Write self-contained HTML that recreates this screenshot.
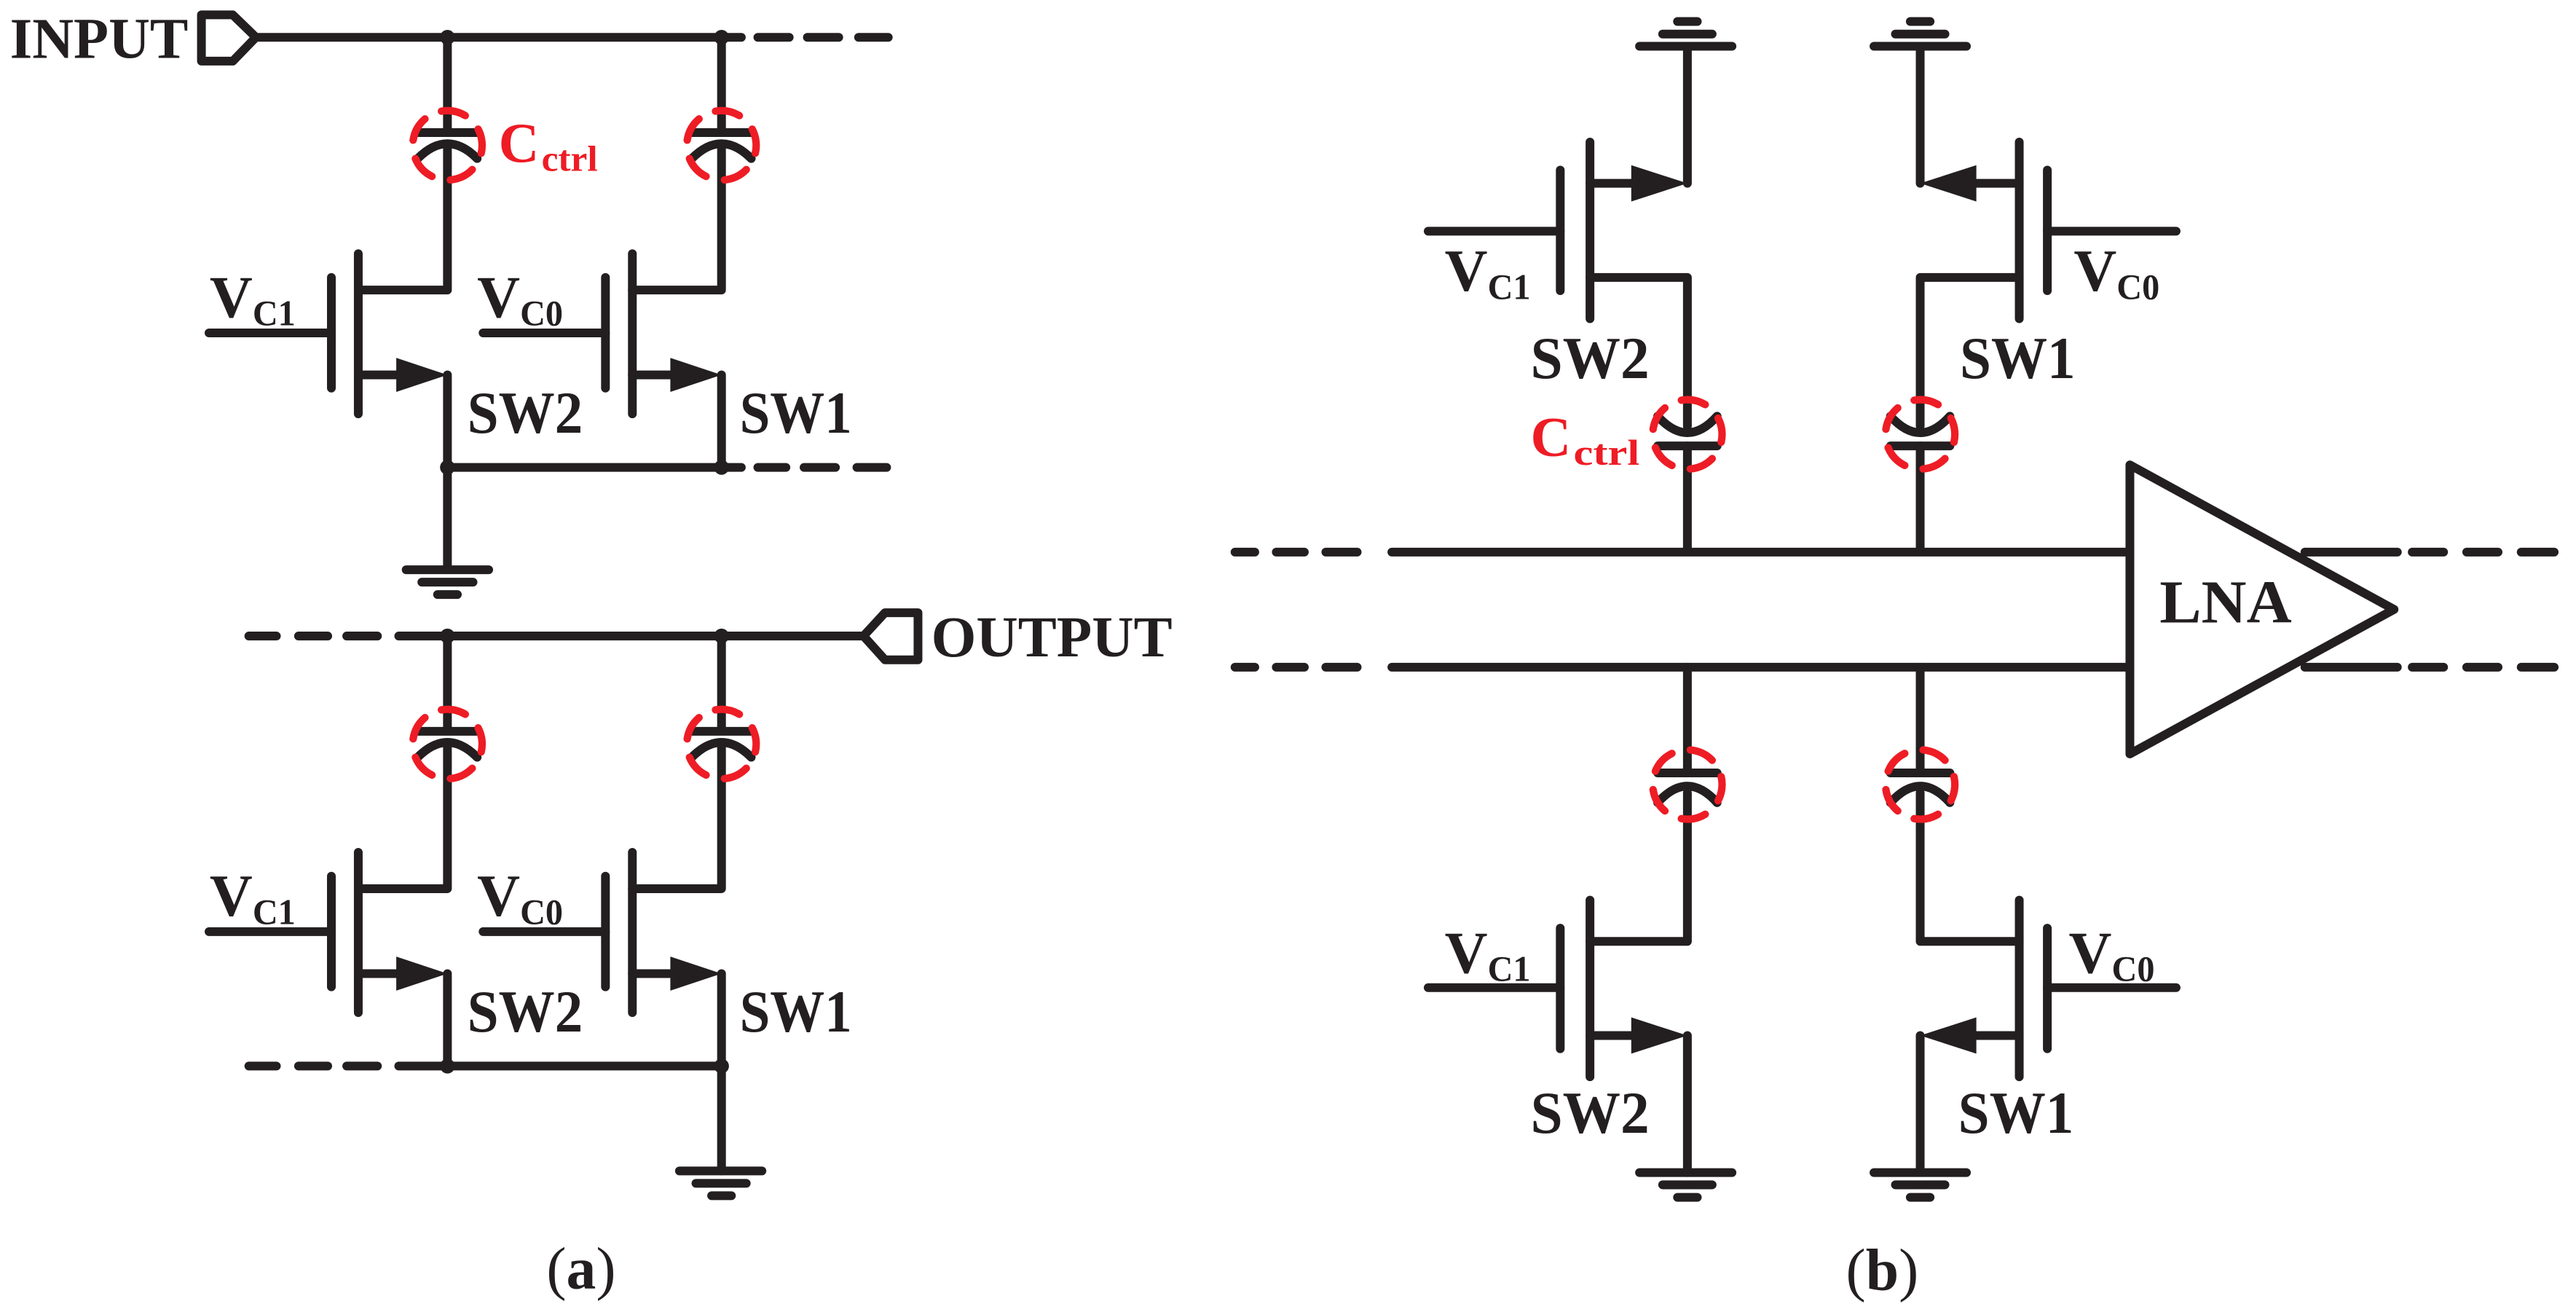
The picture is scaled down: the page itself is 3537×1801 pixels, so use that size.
<!DOCTYPE html>
<html><head><meta charset="utf-8"><style>
html,body{margin:0;padding:0;background:#fff;}
svg{display:block;}
text{font-family:"Liberation Serif",serif;font-weight:bold;fill:#231f20;}
</style></head><body>
<svg width="3537" height="1801" viewBox="0 0 1560.2 794.4" preserveAspectRatio="none" xmlns="http://www.w3.org/2000/svg">
<defs>
<g id="circ"><circle cx="0" cy="0" r="21" fill="none" stroke="#ee1c25" stroke-width="4.5" stroke-linecap="round" stroke-dasharray="15 11.4" transform="rotate(-100)"/></g>
<g id="aunit" stroke="#231f20" stroke-width="5.3" fill="none" stroke-linecap="round" stroke-linejoin="round">
  <path d="M271 22.6 V80"/>
  <path d="M253 80.3 H289"/>
  <path d="M253 96 Q271 78 289 96"/>
  <path d="M271 88 V175.6 H217"/>
  <path d="M217 153.6 V250.6"/>
  <path d="M200.7 168 V235"/>
  <path d="M126.6 201.6 H200.7"/>
  <path d="M217 227 H242"/>
  <path d="M271 227 V283"/>
  <polygon points="240,216.7 271,227 240,237.3" fill="#231f20" stroke="none"/>
  <use href="#circ" transform="translate(271,88)"/>
</g>
<g id="bunit" stroke="#231f20" stroke-width="5.3" fill="none" stroke-linecap="round" stroke-linejoin="round">
  <path d="M993 28 H1049"/>
  <path d="M1007 20.6 H1037"/>
  <path d="M1016 13 H1028"/>
  <path d="M1022 28 V111"/>
  <path d="M963 111 H990"/>
  <polygon points="988,100 1022,111 988,122" fill="#231f20" stroke="none"/>
  <path d="M963 86 V193"/>
  <path d="M945 103 V176"/>
  <path d="M865 140 H945"/>
  <path d="M963 168 H1022 V258"/>
  <path d="M1004 252 Q1022 272 1040 252"/>
  <path d="M1004 270 H1040"/>
  <path d="M1022 270 V334"/>
  <use href="#circ" transform="translate(1022,263)"/>
</g>
<g id="bunit2" stroke="#231f20" stroke-width="5.3" fill="none" stroke-linecap="round" stroke-linejoin="round">
  <path d="M1135 28 H1191"/>
  <path d="M1148 20.6 H1178"/>
  <path d="M1157 13 H1169"/>
  <path d="M1163 28 V111"/>
  <path d="M1223 111 H1195"/>
  <polygon points="1197,100 1163,111 1197,122" fill="#231f20" stroke="none"/>
  <path d="M1223 86 V193"/>
  <path d="M1240 103 V176"/>
  <path d="M1318 140 H1240"/>
  <path d="M1223 168 H1163 V258"/>
  <path d="M1145 252 Q1163 272 1181 252"/>
  <path d="M1145 270 H1181"/>
  <path d="M1163 270 V334"/>
  <use href="#circ" transform="translate(1163,263)"/>
</g>
</defs>

<g stroke="#231f20" stroke-width="5.3" fill="none" stroke-linecap="round" stroke-linejoin="round">
  <path d="M122 9 H141 L155 22.6 L141 37 H122 Z"/>
  <path d="M155 22.6 H449"/>
  <path d="M459 22.6 H478 M489 22.6 H508 M520 22.6 H538"/>
  <path d="M271 283 H449"/>
  <path d="M459 283 H476 M487 283 H506 M519 283 H537"/>
  <path d="M271 283 V345"/>
  <path d="M246 345 H296 M255.5 352.5 H286.5 M265 360 H277"/>
</g>
<circle cx="271" cy="22.6" r="4.5" fill="#231f20"/>
<circle cx="437" cy="22.6" r="4.5" fill="#231f20"/>
<circle cx="271" cy="283" r="4.5" fill="#231f20"/>
<circle cx="437" cy="283" r="4.5" fill="#231f20"/>
<use href="#aunit"/>
<use href="#aunit" transform="translate(166,0)"/>
<text x="6" y="35" font-size="35" textLength="108" lengthAdjust="spacingAndGlyphs">INPUT</text>
<text x="302" y="98" font-size="34" style="fill:#ee1c25">C</text>
<text x="328" y="103.4" font-size="22" style="fill:#ee1c25" textLength="34" lengthAdjust="spacingAndGlyphs">ctrl</text>
<text x="127" y="192" font-size="36">V</text><text x="153" y="197" font-size="22" textLength="26" lengthAdjust="spacingAndGlyphs">C1</text>
<text x="289" y="192" font-size="36">V</text><text x="315" y="197" font-size="22" textLength="26" lengthAdjust="spacingAndGlyphs">C0</text>
<text x="283" y="262" font-size="36" textLength="70" lengthAdjust="spacingAndGlyphs">SW2</text>
<text x="448" y="262" font-size="36" textLength="68" lengthAdjust="spacingAndGlyphs">SW1</text>

<g transform="translate(0,362.5)">
<g stroke="#231f20" stroke-width="5.3" fill="none" stroke-linecap="round" stroke-linejoin="round">
  <path d="M150.7 22.6 H167.4 M180.8 22.6 H198.5 M210 22.6 H228.6"/>
  <path d="M241.5 22.6 H523"/>
  <path d="M556 8.5 H536 L523 22.6 L536 37 H556 Z"/>
  <path d="M150.7 283 H167.4 M180.8 283 H198.5 M210 283 H228.6"/>
  <path d="M241.5 283 H437"/>
  <path d="M437 283 V346.5"/>
  <path d="M411.5 346.5 H461.5 M421.5 354 H452 M431 361.5 H443"/>
</g>
<circle cx="271" cy="22.6" r="4.5" fill="#231f20"/>
<circle cx="437" cy="22.6" r="4.5" fill="#231f20"/>
<circle cx="271" cy="283" r="4.5" fill="#231f20"/>
<circle cx="437" cy="283" r="4.5" fill="#231f20"/>
<use href="#aunit"/>
<use href="#aunit" transform="translate(166,0)"/>
<text x="127" y="192" font-size="36">V</text><text x="153" y="197" font-size="22" textLength="26" lengthAdjust="spacingAndGlyphs">C1</text>
<text x="289" y="192" font-size="36">V</text><text x="315" y="197" font-size="22" textLength="26" lengthAdjust="spacingAndGlyphs">C0</text>
<text x="283" y="262" font-size="36" textLength="70" lengthAdjust="spacingAndGlyphs">SW2</text>
<text x="448" y="262" font-size="36" textLength="68" lengthAdjust="spacingAndGlyphs">SW1</text>
</g>
<text x="564" y="397.4" font-size="35" textLength="146" lengthAdjust="spacingAndGlyphs">OUTPUT</text>
<text x="331" y="780" font-size="36" style="font-weight:normal">(<tspan font-weight="bold">a</tspan>)</text>

<g stroke="#231f20" stroke-width="5.3" fill="none" stroke-linecap="round" stroke-linejoin="round">
  <path d="M748 334.3 H760 M773 334.3 H790 M803 334.3 H822"/>
  <path d="M843 334.3 H1290"/>
  <path d="M748 404 H760 M773 404 H790 M803 404 H822"/>
  <path d="M843 404 H1290"/>
  <path d="M1290 281.5 V456.5 L1450 369 Z"/>
  <path d="M1396 334.3 H1452 M1461 334.3 H1480 M1494 334.3 H1513 M1527 334.3 H1547"/>
  <path d="M1396 404 H1452 M1461 404 H1480 M1494 404 H1513 M1527 404 H1547"/>
</g>
<use href="#bunit"/>
<use href="#bunit2"/>
<g transform="translate(0,738) scale(1,-1)">
<use href="#bunit"/>
<use href="#bunit2"/>
</g>
<text x="1308" y="377" font-size="37" textLength="80" lengthAdjust="spacingAndGlyphs">LNA</text>
<text x="875" y="176" font-size="36">V</text><text x="901" y="181" font-size="22" textLength="26" lengthAdjust="spacingAndGlyphs">C1</text>
<text x="1256" y="176" font-size="36">V</text><text x="1282" y="181" font-size="22" textLength="26" lengthAdjust="spacingAndGlyphs">C0</text>
<text x="927" y="229" font-size="36" textLength="72" lengthAdjust="spacingAndGlyphs">SW2</text>
<text x="1187" y="229" font-size="36" textLength="70" lengthAdjust="spacingAndGlyphs">SW1</text>
<text x="927" y="276" font-size="34" style="fill:#ee1c25">C</text>
<text x="953" y="281.5" font-size="22" style="fill:#ee1c25" textLength="40" lengthAdjust="spacingAndGlyphs">ctrl</text>
<text x="875" y="589" font-size="36">V</text><text x="901" y="594" font-size="22" textLength="26" lengthAdjust="spacingAndGlyphs">C1</text>
<text x="1253" y="589" font-size="36">V</text><text x="1279" y="594" font-size="22" textLength="26" lengthAdjust="spacingAndGlyphs">C0</text>
<text x="927" y="686" font-size="36" textLength="72" lengthAdjust="spacingAndGlyphs">SW2</text>
<text x="1186" y="686" font-size="36" textLength="70" lengthAdjust="spacingAndGlyphs">SW1</text>
<text x="1118" y="781" font-size="36" style="font-weight:normal">(<tspan font-weight="bold">b</tspan>)</text>
</svg>
</body></html>
